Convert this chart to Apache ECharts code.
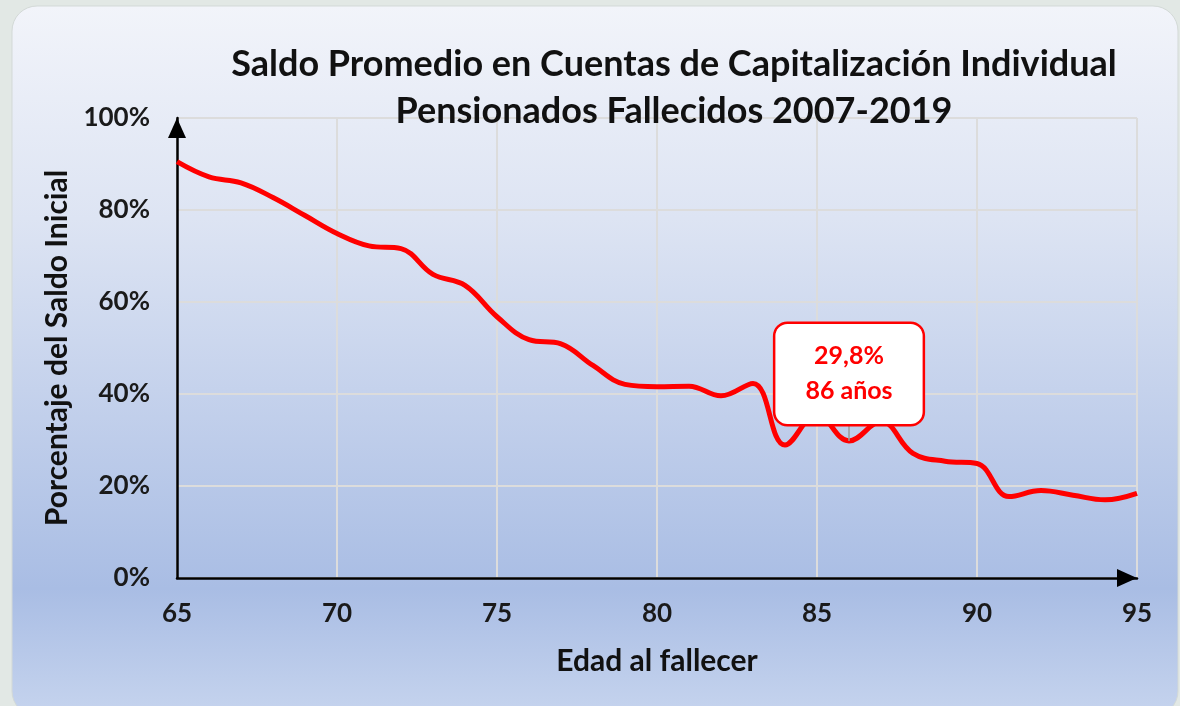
<!DOCTYPE html>
<html>
<head>
<meta charset="utf-8">
<script src="https://cdn.jsdelivr.net/npm/echarts@6/dist/echarts.min.js"></script>
<style>
  html, body { margin: 0; padding: 0; background: #e2e8e5; }
  #chart { width: 1180px; height: 706px; }
</style>
</head>
<body>
<div id="chart"></div>
<script>
// Data
const ages = [65, 66, 67, 68, 69, 70, 71, 72, 73, 74, 75, 76, 77, 78, 79, 80,
              81, 82, 83, 84, 85, 86, 87, 88, 89, 90, 91, 92, 93, 94, 95];
const saldoPct = [90.5, 87.2, 85.9, 82.7, 78.8, 74.9, 72.2, 71.6, 66.0, 63.6, 56.8, 51.8, 50.9, 46.2, 42.1, 41.6,
                  41.7, 39.6, 42.3, 28.9, 35.5, 29.8, 34.0, 27.1, 25.4, 24.9, 17.7, 19.0, 18.0, 17.0, 18.4];
const xTicks = [65, 70, 75, 80, 85, 90, 95];
const yTicks = [0, 20, 40, 60, 80, 100];
const highlightAge = 86;
const highlightText = ['29,8%', '86 años'];
const titleLines = ['Saldo Promedio en Cuentas de Capitalización Individual', 'Pensionados Fallecidos 2007-2019'];

const FONT = 'Lato, "Open Sans", sans-serif';
const RED = '#ff0000';

const seriesData = ages.map((a, i) => [a, saldoPct[i]]);
const hiIdx = ages.indexOf(highlightAge);

const chart = echarts.init(document.getElementById('chart'), null, { renderer: 'canvas' });
chart.setOption({
  backgroundColor: '#e2e8e5',
  animation: false,
  graphic: [{
    type: 'rect',
    z: -10,
    silent: true,
    shape: { x: 12, y: 6, width: 1166, height: 710, r: 25 },
    style: {
      fill: {
        type: 'linear', x: 0, y: 0, x2: 0, y2: 1,
        colorStops: [
          { offset: 0, color: '#f2f4fa' },
          { offset: 0.3, color: '#dde4f3' },
          { offset: 0.82, color: '#a9bde4' },
          { offset: 1, color: '#c6d4ee' }
        ]
      },
      stroke: '#d3d9d7',
      lineWidth: 1
    }
  }],
  title: {
    text: titleLines.join('\n'),
    left: 669,
    top: 36,
    textAlign: 'center',
    textStyle: {
      fontFamily: FONT,
      fontWeight: 'bold',
      fontSize: 36,
      lineHeight: 47,
      color: '#111111'
    }
  },
  grid: { left: 177, right: 43, top: 118, bottom: 128, containLabel: false },
  xAxis: {
    type: 'value',
    min: xTicks[0],
    max: xTicks[xTicks.length - 1],
    interval: 5,
    name: 'Edad al fallecer',
    nameLocation: 'middle',
    nameGap: 68,
    nameTextStyle: { fontFamily: FONT, fontWeight: 'bold', fontSize: 30, color: '#111111' },
    axisLine: {
      show: true,
      lineStyle: { color: '#000000', width: 2.5 },
      symbol: ['none', 'triangle'],
      symbolSize: [18, 20],
      symbolOffset: [0, -10]
    },
    axisTick: { show: false },
    axisLabel: { fontFamily: FONT, fontWeight: 'bold', fontSize: 26, color: '#1a1a1a', margin: 23 },
    splitLine: { show: true, lineStyle: { color: '#dcdcdc', width: 2 } }
  },
  yAxis: {
    type: 'value',
    min: yTicks[0],
    max: yTicks[yTicks.length - 1],
    interval: 20,
    name: 'Porcentaje del Saldo Inicial',
    nameLocation: 'middle',
    nameGap: 100,
    nameTextStyle: { fontFamily: FONT, fontWeight: 'bold', fontSize: 30, color: '#111111' },
    axisLine: {
      show: true,
      lineStyle: { color: '#000000', width: 2.5 },
      symbol: ['none', 'triangle'],
      symbolSize: [18, 20],
      symbolOffset: [0, -10]
    },
    axisTick: { show: false },
    axisLabel: { fontFamily: FONT, fontWeight: 'bold', fontSize: 26, color: '#1a1a1a', margin: 27, formatter: '{value}%' },
    splitLine: { show: true, lineStyle: { color: '#dcdcdc', width: 2 } }
  },
  series: [{
    type: 'line',
    data: seriesData,
    smooth: 0.4,
    symbol: 'none',
    showSymbol: false,
    lineStyle: { color: RED, width: 5 },
    z: 3,
    markLine: {
      silent: true,
      symbol: 'none',
      label: { show: false },
      lineStyle: { color: '#9a9a9a', width: 1.5, type: 'solid' },
      data: [[
        { coord: [ages[hiIdx], saldoPct[hiIdx]] },
        { coord: [ages[hiIdx], saldoPct[hiIdx] + 3.6] }
      ]]
    },
    markPoint: {
      silent: true,
      symbol: 'rect',
      symbolSize: 0,
      data: [{
        coord: [ages[hiIdx], saldoPct[hiIdx]],
        label: {
          show: true,
          position: 'top',
          distance: 17,
          formatter: highlightText.join('\n'),
          color: RED,
          fontFamily: FONT,
          fontWeight: 'bold',
          fontSize: 25,
          lineHeight: 35,
          align: 'center',
          backgroundColor: '#ffffff',
          borderColor: RED,
          borderWidth: 2.5,
          borderRadius: 12,
          padding: [15, 30, 15, 30]
        }
      }]
    }
  }]
});
</script>
</body>
</html>
